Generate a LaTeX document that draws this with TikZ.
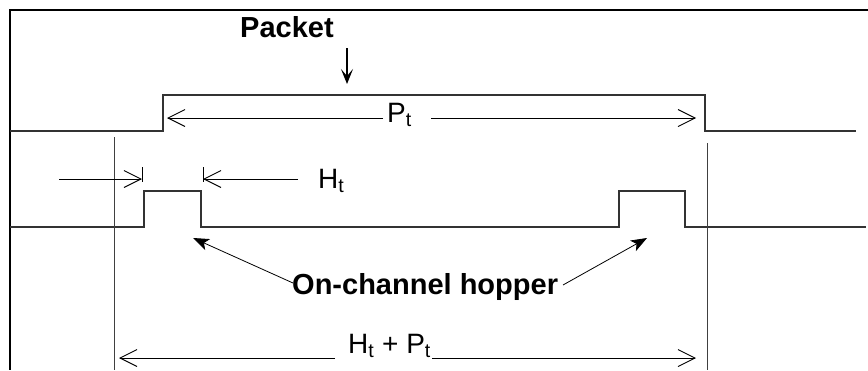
\documentclass[tikz,border=0pt]{standalone}
\usepackage{fontspec}
\setmainfont{Liberation Sans}
\usetikzlibrary{arrows.meta}
\tikzset{
  sig/.style={line width=1.1pt, draw=black!80},
  guide/.style={line width=0.9pt, draw=black!75},
  dim/.style={line width=0.9pt},
  openhead/.style={-{Straight Barb[length=17pt,width=17pt,line width=0.9pt]}},
  fillhead/.style={line width=0.8pt,-{Stealth[length=16pt,width=12pt,inset=4pt]}},
  lbl/.style={inner sep=0pt, anchor=base west, font=\fontsize{28}{31}\selectfont},
  blbl/.style={lbl, font=\fontsize{29}{32}\selectfont\bfseries},
}
\begin{document}
\begin{tikzpicture}[x=1pt,y=-1pt]
\useasboundingbox (0,0) rectangle (868,370);
% frame (top and left only)
\coordinate (fTR) at (868,10);
\coordinate (fTL) at (10,10);
\coordinate (fBL) at (10,370);
\draw[line width=2.4pt] (fTR) -- (fTL) -- (fBL);

% packet signal
\coordinate (p0) at (10,131);
\coordinate (p1) at (163,131);
\coordinate (p2) at (163,95);
\coordinate (p3) at (705,95);
\coordinate (p4) at (705,131);
\coordinate (p5) at (856,131);
\draw[sig] (p0) -- (p1) -- (p2) -- (p3) -- (p4) -- (p5);

% hopper signal
\coordinate (h0) at (10,227);
\coordinate (h1) at (144,227);
\coordinate (h2) at (144,191);
\coordinate (h3) at (201,191);
\coordinate (h4) at (201,227);
\coordinate (h5) at (619,227);
\coordinate (h6) at (619,191);
\coordinate (h7) at (685,191);
\coordinate (h8) at (685,227);
\coordinate (h9) at (866,227);
\draw[sig] (h0) -- (h1) -- (h2) -- (h3) -- (h4) -- (h5) -- (h6) -- (h7) -- (h8) -- (h9);

% vertical guides
\coordinate (vLt) at (114,137);
\coordinate (vLb) at (114,370);
\coordinate (vRt) at (707,143);
\coordinate (vRb) at (707,370);
\draw[guide] (vLt) -- (vLb);
\draw[guide] (vRt) -- (vRb);

% Packet label and arrow
\node[blbl] (pkt) at (240,37) {Packet};
\coordinate (pa0) at (347,48);
\coordinate (pa1) at (347,84);
\draw[line width=1.2pt,-{Stealth[length=15pt,width=12pt,inset=7pt]}] (pa0) -- (pa1);

% P_t dimension
\node[lbl] (pt) at (387,122) {P\textsubscript{t}};
\coordinate (ptL) at (167,118);
\coordinate (ptLe) at (383,118);
\coordinate (ptRs) at (431,118);
\coordinate (ptR) at (696,118);
\draw[dim,openhead] (ptLe) -- (ptL);
\draw[dim,openhead] (ptRs) -- (ptR);

% H_t dimension
\coordinate (htA0) at (59,179);
\coordinate (htA1) at (142,179);
\coordinate (htB0) at (298,179);
\coordinate (htB1) at (203,179);
\coordinate (tkAt) at (142,167);
\coordinate (tkAb) at (142,182);
\coordinate (tkBt) at (203,167);
\coordinate (tkBb) at (203,182);
\draw[dim,openhead] (htA0) -- (htA1);
\draw[dim,openhead] (htB0) -- (htB1);
\draw[dim] (tkAt) -- (tkAb);
\draw[dim] (tkBt) -- (tkBb);
\node[lbl] (ht) at (318,188) {H\textsubscript{t}};

% On-channel hopper
\node[blbl] (och) at (292,294) {On-channel hopper};
\coordinate (ochL) at (293,283);
\coordinate (ochLt) at (193,238);
\coordinate (ochR) at (563,285);
\coordinate (ochRt) at (647,238);
\draw[fillhead] (ochL) -- (ochLt);
\draw[fillhead] (ochR) -- (ochRt);

% H_t + P_t dimension
\node[lbl] (htpt) at (348,353) {H\textsubscript{t} + P\textsubscript{t}};
\coordinate (tL) at (119,358);
\coordinate (tLe) at (335,358);
\coordinate (tRs) at (432,358);
\coordinate (tR) at (696,358);
\draw[dim,openhead] (tLe) -- (tL);
\draw[dim,openhead] (tRs) -- (tR);
\end{tikzpicture}
\end{document}
